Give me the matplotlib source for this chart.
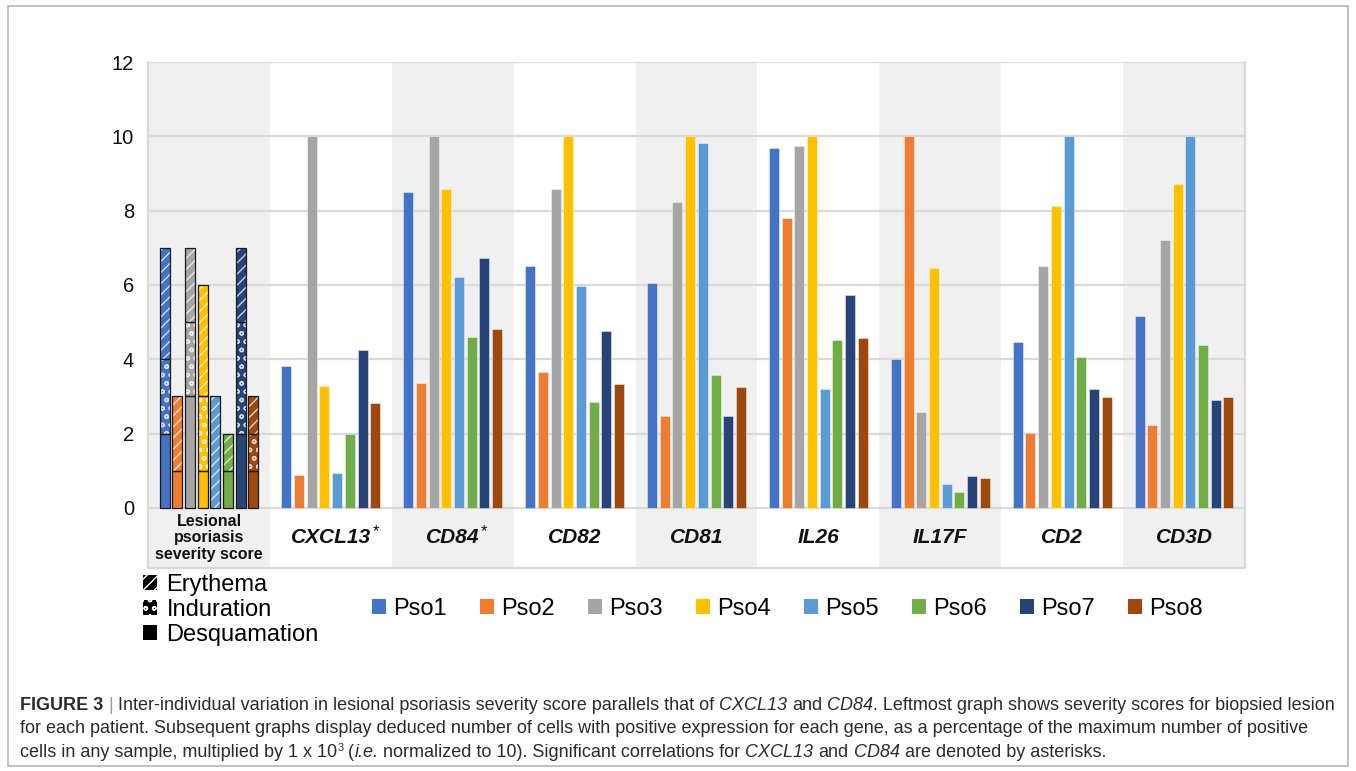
import numpy as np
import matplotlib.pyplot as plt
from matplotlib.patches import Patch, Rectangle

plt.rcParams["font.family"] = ["Liberation Sans", "DejaVu Sans"]
plt.rcParams["hatch.linewidth"] = 1.0

# patients and colours
patients = ["Pso1", "Pso2", "Pso3", "Pso4", "Pso5", "Pso6", "Pso7", "Pso8"]
colors = ["#4472C4", "#ED7D31", "#A5A5A5", "#FFC000",
          "#5B9BD5", "#70AD47", "#264478", "#9E480E"]

# lesional psoriasis severity score components (stacked, bottom to top)
desquamation = [2, 1, 3, 1, 0, 1, 2, 1]
induration = [2, 0, 2, 2, 0, 0, 3, 1]
erythema = [3, 2, 2, 3, 3, 1, 2, 1]

# normalized positive cell counts per gene (Pso1..Pso8)
genes = ["CXCL13", "CD84", "CD82", "CD81", "IL26", "IL17F", "CD2", "CD3D"]
significant = ["CXCL13", "CD84"]
cxcl13 = [3.81, 0.87, 10.0, 3.28, 0.93, 1.98, 4.26, 2.82]
cd84 = [8.49, 3.37, 10.0, 8.57, 6.20, 4.61, 6.73, 4.82]
cd82 = [6.52, 3.66, 8.59, 10.0, 5.96, 2.86, 4.77, 3.32]
cd81 = [6.04, 2.47, 8.24, 10.0, 9.83, 3.58, 2.47, 3.26]
il26 = [9.68, 7.79, 9.75, 10.0, 3.19, 4.53, 5.72, 4.58]
il17f = [4.00, 10.0, 2.59, 6.46, 0.65, 0.42, 0.86, 0.80]
cd2 = [4.47, 2.02, 6.51, 8.13, 10.0, 4.05, 3.19, 2.98]
cd3d = [5.15, 2.22, 7.21, 8.71, 10.0, 4.39, 2.89, 2.98]
expression = [cxcl13, cd84, cd82, cd81, il26, il17f, cd2, cd3d]

score_label = "Lesional\npsoriasis\nseverity score"
component_names = ["Erythema", "Induration", "Desquamation"]
yticks = [0, 2, 4, 6, 8, 10, 12]

W, H = 1356, 771
fig = plt.figure(figsize=(W / 100, H / 100), dpi=100)

BAND = 1.62  # height of the category label strip below zero
ax = fig.add_axes([148 / W, 1 - 568 / H, (1245 - 148) / W, (568 - 62) / H])
ax.set_xlim(0, 9)
ax.set_ylim(-BAND, 12)

grid_c = "#d9d9d9"
shade_c = "#f0f0f0"
for i in range(0, 9, 2):
    ax.axvspan(i, i + 1, color=shade_c, lw=0, zorder=0)
for v in yticks:
    ax.axhline(v, color=grid_c, lw=1.6, zorder=1)

slot = 0.104
bw = 0.082
offsets = (np.arange(len(patients)) - 3.5) * slot

# severity score: stacked bars with hatch patterns
bottoms = np.zeros(len(patients))
for vals, hatch in [(desquamation, None), (induration, "oo"), (erythema, "///")]:
    vals = np.array(vals, dtype=float)
    for j in range(len(patients)):
        if vals[j] == 0:
            continue
        ax.bar(0.5 + offsets[j], vals[j], bw, bottom=bottoms[j], color=colors[j],
               edgecolor=(1, 1, 1, 0.75), hatch=hatch, lw=0, zorder=2)
        ax.bar(0.5 + offsets[j], vals[j], bw, bottom=bottoms[j], fill=False,
               edgecolor="#1a1a1a", lw=0.9, zorder=3)
    bottoms += vals

# gene expression bars
for g, vals in enumerate(expression):
    for j in range(len(patients)):
        ax.bar(g + 1.5 + offsets[j], vals[j], bw, color=colors[j],
               edgecolor=(1, 1, 1, 0.5), lw=0.6, zorder=2)

# category labels in the strip under the plot
ax.text(0.5, -BAND / 2, score_label, ha="center", va="center",
        fontsize=11.5, fontweight="bold", linespacing=1.1, color="#111111")
for g, name in enumerate(genes):
    t = ax.text(g + 1.5, -BAND / 2, name, ha="center", va="center",
                fontsize=15, fontweight="bold", style="italic", color="#111111")
    if name in significant:
        ax.annotate("*", xy=(1, 1), xycoords=t, xytext=(1, 3),
                    textcoords="offset points", ha="left", va="top",
                    fontsize=12, color="#111111")

ax.set_xticks([])
ax.set_yticks(yticks)
ax.set_yticklabels([str(v) for v in yticks], fontsize=14.5, color="#111111")
ax.tick_params(axis="y", length=0, pad=10)
for s in ax.spines.values():
    s.set_color(grid_c)
    s.set_linewidth(1.6)
ax.spines["top"].set_visible(False)

# legends
comp_handles = [
    Patch(facecolor="black", edgecolor="white", hatch="///", lw=0),
    Patch(facecolor="black", edgecolor="white", hatch="oo", lw=0),
    Patch(facecolor="black", edgecolor="black", lw=0),
]
fig.legend(comp_handles, component_names, loc="upper left",
           bbox_to_anchor=(143 / W, 1 - 574 / H), frameon=False, fontsize=17,
           handlelength=0.6, handleheight=0.6, handletextpad=0.4,
           labelspacing=0.13, borderpad=0, borderaxespad=0)

pso_handles = [Patch(facecolor=c, edgecolor="none") for c in colors]
fig.legend(pso_handles, patients, loc="upper left", ncol=8,
           bbox_to_anchor=(372 / W, 1 - 598 / H), frameon=False, fontsize=17,
           handlelength=0.6, handleheight=0.6, handletextpad=0.3,
           columnspacing=1.4, borderpad=0, borderaxespad=0)

# caption with mixed styles
renderer = fig.canvas.get_renderer()
cap_size = 13.0
cap_color = "#2b2b2b"
styles = {
    "n": dict(),
    "b": dict(fontweight="bold"),
    "i": dict(style="italic"),
    "bar": dict(color="#9a9a9a"),
}


def text_width(s, **kw):
    t = fig.text(0, 0, s, fontsize=kw.pop("fontsize", cap_size), **kw)
    w = t.get_window_extent(renderer).width
    t.remove()
    return w


space_w = text_width("| |") - text_width("||")


def caption_line(y_px, runs, x_px=20):
    x = x_px
    for text, st in runs:
        core = text.strip(" ")
        x += (len(text) - len(text.lstrip(" "))) * space_w
        if core:
            if st == "sup":
                t = fig.text(x / W, 1 - (y_px - 6) / H, core, fontsize=cap_size * 0.6,
                             color=cap_color, va="baseline")
            else:
                kw = dict(color=cap_color)
                kw.update(styles[st])
                t = fig.text(x / W, 1 - y_px / H, core, fontsize=cap_size,
                             va="baseline", **kw)
            x += t.get_window_extent(renderer).width
        x += (len(text) - len(text.rstrip(" "))) * space_w


caption_line(710, [
    ("FIGURE 3", "b"), (" | ", "bar"),
    ("Inter-individual variation in lesional psoriasis severity score parallels that of ", "n"),
    ("CXCL13", "i"), (" and ", "n"), ("CD84", "i"),
    (". Leftmost graph shows severity scores for biopsied lesion", "n"),
])
caption_line(733, [
    ("for each patient. Subsequent graphs display deduced number of cells with positive "
     "expression for each gene, as a percentage of the maximum number of positive", "n"),
])
caption_line(757, [
    ("cells in any sample, multiplied by 1 x 10", "n"), ("3", "sup"), (" (", "n"),
    ("i.e.", "i"), (" normalized to 10). Significant correlations for ", "n"),
    ("CXCL13", "i"), (" and ", "n"), ("CD84", "i"), (" are denoted by asterisks.", "n"),
])

# outer frame
fig.patches.append(Rectangle((8 / W, 1 - 766 / H), 1340 / W, 760 / H,
                             transform=fig.transFigure, fill=False,
                             edgecolor="#b5b5b5", lw=1.2))

fig.savefig("out.png", dpi=100)
